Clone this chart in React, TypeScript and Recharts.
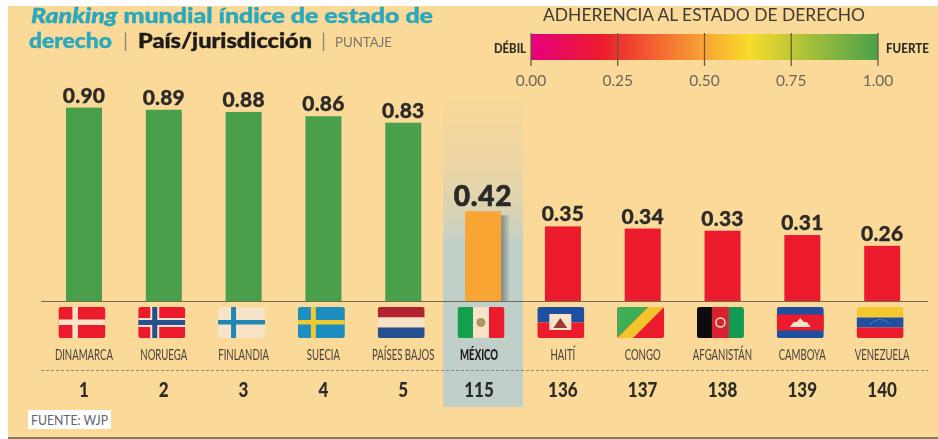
import React from "react";
import { ComposedChart, Bar, XAxis, YAxis, Cell, LabelList, ReferenceArea } from "recharts";

const countries = ["DINAMARCA", "NORUEGA", "FINLANDIA", "SUECIA", "PAÍSES BAJOS", "MÉXICO", "HAITÍ", "CONGO", "AFGANISTÁN", "CAMBOYA", "VENEZUELA"];
const scores = [0.9, 0.89, 0.88, 0.86, 0.83, 0.42, 0.35, 0.34, 0.33, 0.31, 0.26];
const ranks = [1, 2, 3, 4, 5, 115, 136, 137, 138, 139, 140];
const legendTicks = ["0.00", "0.25", "0.50", "0.75", "1.00"];
const data = countries.map((name, i) => ({ name, score: scores[i], rank: ranks[i] }));

const GREEN = "#4aa04a";
const RED = "#ec1a2d";
const ORANGE = "#f9a534";
const BG = "#fbd999";
const TEAL = "#2ba8bb";
const INK = "#2b2a26";
const SANS = "Lato, 'Open Sans', sans-serif";

const barColor = (v: number) => (v >= 0.75 ? GREEN : v >= 0.4 ? ORANGE : RED);

function Flag({ name }: { name: string }) {
  const w = 47, h = 31;
  let c: React.ReactNode = null;
  if (name === "DINAMARCA") c = <><rect width={w} height={h} fill="#ec1a2d" /><rect x={14} width={5.5} height={h} fill="#f6e3c8" /><rect y={12.5} width={w} height={5.5} fill="#f6e3c8" /></>;
  if (name === "NORUEGA") c = <><rect width={w} height={h} fill="#ec1a2d" /><rect x={12} width={9} height={h} fill="#f6e3c8" /><rect y={11} width={w} height={9} fill="#f6e3c8" /><rect x={14} width={5} height={h} fill="#27508f" /><rect y={13} width={w} height={5} fill="#27508f" /></>;
  if (name === "FINLANDIA") c = <><rect width={w} height={h} fill="#f6e3c8" /><rect x={13} width={5} height={h} fill="#1f86b5" /><rect y={13} width={w} height={4.5} fill="#1f86b5" /></>;
  if (name === "SUECIA") c = <><rect width={w} height={h} fill="#1c8fc0" /><rect x={13} width={5} height={h} fill="#f2c92e" /><rect y={13} width={w} height={4.5} fill="#f2c92e" /></>;
  if (name === "PAÍSES BAJOS") c = <><rect width={w} height={10.5} fill="#b1232f" /><rect y={10.5} width={w} height={10} fill="#f6e3c8" /><rect y={20.5} width={w} height={10.5} fill="#27508f" /></>;
  if (name === "MÉXICO") c = <><rect width={15.5} height={h} fill="#12a04e" /><rect x={15.5} width={16} height={h} fill="#f6e3c8" /><rect x={31.5} width={15.5} height={h} fill="#ec1a2d" /><circle cx={23.5} cy={15.5} r={4.5} fill="#a89a5a" /></>;
  if (name === "HAITÍ") c = <><rect width={w} height={15.5} fill="#1f4fa0" /><rect y={15.5} width={w} height={15.5} fill="#ec1a2d" /><rect x={12} y={7} width={22} height={16} fill="#f6e3c8" /><path d="M16 21 L23 11 L30 21 Z" fill="#9a3a35" /></>;
  if (name === "CONGO") c = <><rect width={w} height={h} fill="#ec1a2d" /><path d="M0 0 H31 L0 31 Z" fill="#3fae55" /><path d="M31 0 H47 L16 31 H0 Z" fill="#f3c32c" /></>;
  if (name === "AFGANISTÁN") c = <><rect width={15} height={h} fill="#0c0c0c" /><rect x={15} width={17} height={h} fill="#d8222f" /><rect x={32} width={15} height={h} fill="#129a50" /><circle cx={23.5} cy={15.5} r={4.5} fill="none" stroke="#f6e3c8" strokeWidth={1.5} /></>;
  if (name === "CAMBOYA") c = <><rect width={w} height={h} fill="#1f4fa0" /><rect y={7.5} width={w} height={16} fill="#ec1a2d" /><path d="M13 20 L17 15 L20 15 L23.5 11 L27 15 L30 15 L34 20 Z" fill="#f6e3c8" /></>;
  if (name === "VENEZUELA") c = <><rect width={w} height={10.5} fill="#f4c92d" /><rect y={10.5} width={w} height={10} fill="#1f4fa0" /><rect y={20.5} width={w} height={10.5} fill="#ec1a2d" /><path d="M14 17 Q23.5 8 33 17" fill="none" stroke="#dfe3ef" strokeWidth={0.8} strokeDasharray="1 2" /></>;
  return <g transform="translate(-25.5,-3)"><g clipPath="url(#flagClip)">{c}</g></g>;
}

function CountryTick({ x, y, payload, index }: any) {
  const name = payload.value as string;
  const mx = name === "MÉXICO";
  return (
    <g transform={`translate(${x},${y})`}>
      <Flag name={name} />
      <text transform={`translate(${mx ? -4 : 0},49.5) scale(0.64,1)`} textAnchor="middle" fontFamily={SANS} fontWeight={mx ? 900 : 400} fontSize={15} fill={mx ? "#1d1c1a" : "#45433a"}>{name}</text>
      <text transform={`translate(${mx ? -4 : 0},87) scale(0.85,1)`} textAnchor="middle" fontFamily={SANS} fontWeight={900} fontSize={20} fill={INK}>{ranks[index]}</text>
    </g>
  );
}

function ScoreLabel({ x, y, width, value }: any) {
  const big = value === 0.42;
  return (
    <text x={x + width / 2} y={y - 5} textAnchor="middle" fontFamily={SANS} fontWeight={900} fontSize={big ? 28 : 21} letterSpacing={big ? 0.8 : 0.2} fill={INK} stroke={INK} strokeWidth={big ? 0.7 : 0.3}>
      {Number(value).toFixed(2)}
    </text>
  );
}

function ScoreBar({ x, y, width, height, payload }: any) {
  return (
    <g>
      {payload.name === "MÉXICO" && <rect x={x + width} y={y + 4} width={9} height={height - 4} fill="url(#barShadow)" />}
      <rect x={x} y={y} width={width} height={height} fill={barColor(payload.score)} />
    </g>
  );
}

function Band({ x, width }: any) {
  return <rect x={x} y={100} width={width} height={307} fill="url(#bandFade)" />;
}

export default function App() {
  return (
    <div style={{ position: "absolute", left: 0, top: 0, width: 938, height: 439, background: "#fff", overflow: "hidden" }}>
      <div style={{ position: "absolute", left: 8, top: 6, width: 930, height: 431, background: BG, borderBottom: "2px solid #8a7a5c" }} />
      <div style={{ position: "absolute", left: 0, top: 0, filter: "blur(0.65px)" }}>
        <svg width={938} height={439} style={{ position: "absolute", left: 0, top: 0 }}>
          <defs>
            <linearGradient id="legendGrad" x1="0" x2="1" y1="0" y2="0">
              <stop offset="0" stopColor="#e6007e" />
              <stop offset="0.2" stopColor="#ec1a2d" />
              <stop offset="0.5" stopColor="#f9a534" />
              <stop offset="0.63" stopColor="#f6dc2b" />
              <stop offset="1" stopColor="#4aa04a" />
            </linearGradient>
          </defs>
          <text x={31} y={23} fontFamily={SANS} fontWeight={900} fontSize={20.5} fill={TEAL} stroke={TEAL} strokeWidth={0.4} textLength={402} lengthAdjust="spacingAndGlyphs">
            <tspan fontStyle="italic">Ranking</tspan> mundial índice de estado de
          </text>
          <text x={29} y={48} fontFamily={SANS} fontWeight={900} fontSize={20.5} fill={TEAL} stroke={TEAL} strokeWidth={0.4} textLength={83} lengthAdjust="spacingAndGlyphs">derecho</text>
          <text x={123} y={48} fontFamily={SANS} fontSize={20} fill="#8a8a78">|</text>
          <text x={138} y={48} fontFamily={SANS} fontWeight={900} fontSize={20.5} fill="#1d1c1a" stroke="#1d1c1a" strokeWidth={0.4} textLength={174} lengthAdjust="spacingAndGlyphs">País/jurisdicción</text>
          <text x={321} y={48} fontFamily={SANS} fontSize={20} fill="#8a8a78">|</text>
          <text x={335} y={47} fontFamily={SANS} fontSize={14} fill="#77766a" textLength={57} lengthAdjust="spacingAndGlyphs">PUNTAJE</text>
          <text x={704} y={21} textAnchor="middle" fontFamily={SANS} fontSize={17} fill="#3d3b33" textLength={322} lengthAdjust="spacingAndGlyphs">ADHERENCIA AL ESTADO DE DERECHO</text>
          <text x={494} y={53} fontFamily={SANS} fontWeight={900} fontSize={13} fill="#2f2d27" textLength={32} lengthAdjust="spacingAndGlyphs">DÉBIL</text>
          <text x={886} y={53} fontFamily={SANS} fontWeight={900} fontSize={13} fill="#2f2d27" textLength={43} lengthAdjust="spacingAndGlyphs">FUERTE</text>
          <rect x={531} y={34} width={347} height={26} fill="url(#legendGrad)" />
          {legendTicks.map((t, i) => (
            <g key={t}>
              <line x1={531 + i * 86.75} x2={531 + i * 86.75} y1={33} y2={66} stroke="#6a5a3c" strokeWidth={1.3} />
              <text x={531 + i * 86.75} y={86} textAnchor="middle" fontFamily={SANS} fontSize={15.5} fill="#6a675c">{t}</text>
            </g>
          ))}
        </svg>
        <ComposedChart width={938} height={439} data={data} margin={{ top: 86, right: 16, bottom: 0, left: 44 }} barCategoryGap="55%">
          <defs>
            <clipPath id="flagClip"><rect width={47} height={31} rx={2.5} /></clipPath>
            <linearGradient id="bandFade" x1="0" x2="0" y1="0" y2="1">
              <stop offset="0" stopColor="#c3cfc6" stopOpacity={0} />
              <stop offset="0.2" stopColor="#c3cfc6" stopOpacity={0.25} />
              <stop offset="0.36" stopColor="#c3cfc6" stopOpacity={0.6} />
              <stop offset="0.47" stopColor="#c1cfc9" stopOpacity={1} />
              <stop offset="1" stopColor="#c1cfc9" />
            </linearGradient>
            <linearGradient id="barShadow" x1="0" x2="1" y1="0" y2="0">
              <stop offset="0" stopColor="#6d7a78" stopOpacity={0.85} />
              <stop offset="1" stopColor="#6d7a78" stopOpacity={0} />
            </linearGradient>
          </defs>
          <XAxis dataKey="name" interval={0} height={137} axisLine={false} tickLine={false} tick={<CountryTick />} />
          <YAxis hide domain={[0, 1]} />
          <ReferenceArea x1="MÉXICO" x2="MÉXICO" y1={0} y2={1} ifOverflow="visible" shape={<Band />} />
          <Bar dataKey="score" barSize={36} isAnimationActive={false} shape={<ScoreBar />}>
            {data.map((d) => <Cell key={d.name} fill={barColor(d.score)} />)}
            <LabelList dataKey="score" content={<ScoreLabel />} />
          </Bar>
        </ComposedChart>
        <svg width={938} height={439} style={{ position: "absolute", left: 0, top: 0, pointerEvents: "none" }}>
          <line x1={41} x2={928} y1={301.5} y2={301.5} stroke="#6b6a55" strokeWidth={1.2} />
          <line x1={41} x2={928} y1={370.5} y2={370.5} stroke="#8b8a78" strokeWidth={1} strokeDasharray="3 2" />
          <rect x={28} y={410} width={83} height={19} fill="#fff" />
          <text x={31} y={425} fontFamily={SANS} fontSize={14} fill="#5f6470" textLength={77} lengthAdjust="spacingAndGlyphs">FUENTE: WJP</text>
        </svg>
      </div>
    </div>
  );
}
